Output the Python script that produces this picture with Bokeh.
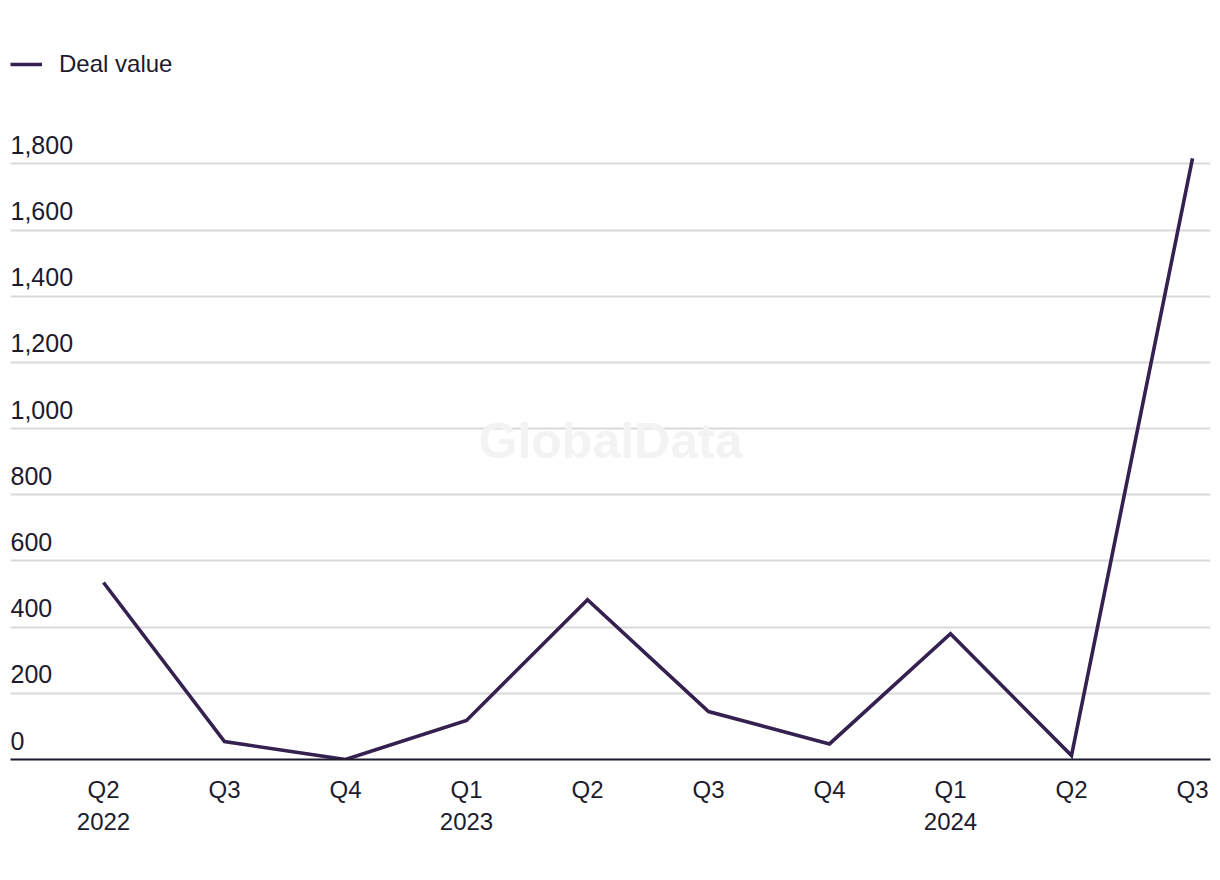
from bokeh.plotting import figure
from bokeh.models import (ColumnDataSource, FixedTicker, Grid, Range1d, Legend,
                          LegendItem, Label, LinearAxis)
from bokeh.core.properties import value
from bokeh.embed import file_html
from bokeh.resources import INLINE

# ---- data ----
quarters = ["Q2", "Q3", "Q4", "Q1", "Q2", "Q3", "Q4", "Q1", "Q2", "Q3"]
years = ["2022", "", "", "2023", "", "", "", "2024", "", ""]
deal_value = [535, 54, 0, 118, 483, 145, 47, 380, 12, 1817]
y_ticks = [0, 200, 400, 600, 800, 1000, 1200, 1400, 1600, 1800]
y_tick_labels = ["0", "200", "400", "600", "800", "1,000", "1,200", "1,400", "1,600", "1,800"]
series_name = "Deal value"

FONT = "Liberation Sans"
TEXT_COLOR = "#1c1b2e"
LINE_COLOR = "#34214f"

Y_MAX = 2143
FRAME_H = 868 - 50 - 109
LABEL_LIFT = 19 * Y_MAX / FRAME_H  # pixels expressed in data units

xs = list(range(len(quarters)))
src = ColumnDataSource(dict(x=xs, y=deal_value))

p = figure(width=1212, height=868, output_backend="svg", toolbar_location=None,
           x_range=Range1d(-0.7686, 9.1488), y_range=Range1d(0, Y_MAX),
           y_axis_location=None, x_axis_location=None,
           min_border_left=10, min_border_right=2, min_border_top=50,
           min_border_bottom=109)
p.outline_line_color = None
p.background_fill_color = "white"
p.border_fill_color = "white"

# remove default grids
p.center = [c for c in p.center if not isinstance(c, Grid)]

# horizontal gridlines
grid = Grid(dimension=1, ticker=FixedTicker(ticks=y_ticks[1:]),
            grid_line_color="#d9d9d9", grid_line_width=2)
p.add_layout(grid)

# watermark
p.add_layout(Label(x=600, y=319, x_units="screen", y_units="screen",
                   text="GlobalData", text_font=FONT, text_font_size="50px",
                   text_font_style="bold", text_color="#f3f3f3",
                   text_align="center", text_baseline="middle"))

# x axis
xaxis = LinearAxis(ticker=FixedTicker(ticks=xs))
xaxis.major_label_overrides = {i: (q + ("\n" + y if y else "")) for i, (q, y) in enumerate(zip(quarters, years))}
xaxis.axis_line_color = TEXT_COLOR
xaxis.axis_line_width = 2
xaxis.major_tick_line_color = None
xaxis.minor_tick_line_color = None
xaxis.major_label_text_font = FONT
xaxis.major_label_text_font_size = "24px"
xaxis.major_label_text_color = TEXT_COLOR
xaxis.major_label_standoff = 10
p.add_layout(xaxis, "below")

# y tick labels drawn above gridlines
lab_src = ColumnDataSource(dict(x=[-0.7686] * len(y_ticks),
                                y=[t + LABEL_LIFT for t in y_ticks],
                                t=y_tick_labels))
p.text(x="x", y="y", text="t", source=lab_src, text_font=value(FONT),
       text_font_size="25px", text_color=TEXT_COLOR, text_baseline="alphabetic",
       text_align="left")

# line
r = p.line(x="x", y="y", source=src, line_color=LINE_COLOR, line_width=3.6,
           line_join="miter")

legend = Legend(items=[LegendItem(label=series_name, renderers=[r])],
                location="top_left", margin=0, padding=0, border_line_color=None,
                background_fill_alpha=0, glyph_width=32, glyph_height=22,
                label_height=22, label_standoff=17, label_text_font=FONT,
                label_text_font_size="24px", label_text_color=TEXT_COLOR)
p.add_layout(legend)

open("out.html", "w").write(file_html(p, INLINE))
